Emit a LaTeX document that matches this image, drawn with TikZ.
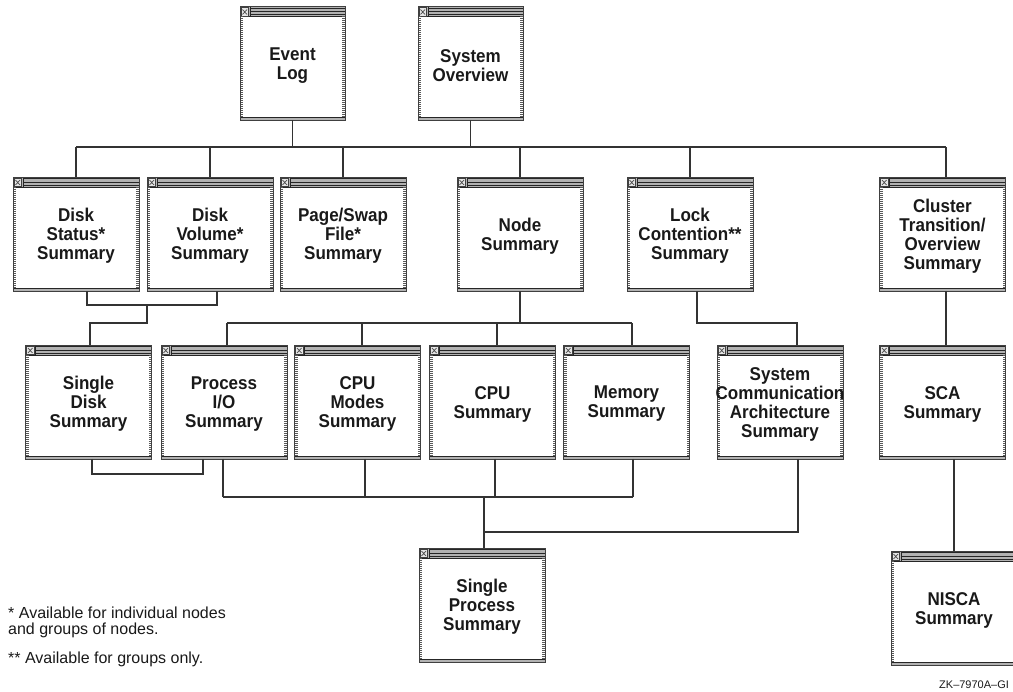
\documentclass[tikz,border=0pt]{standalone}
\usepackage{fontspec}
\setmainfont{Liberation Sans}
\newfontfamily\lblfont{Liberation Sans}[FakeStretch=0.92]
\usetikzlibrary{calc}
\begin{document}
\begin{tikzpicture}[x=1pt,y=-1pt,
  conn/.style={draw=black!80, line width=1.1pt},
  winbox/.style={draw=black!75, line width=0.9pt, fill=white,
    minimum width=#1, minimum height=114pt, inner sep=0pt, outer sep=0pt,
    path picture={
      \path (path picture bounding box.north west) coordinate (pNW)
            (path picture bounding box.south east) coordinate (pSE);
      % title bar with stripes
      \fill[black!30] (pNW) rectangle ($(pSE|-pNW)+(0,10)$);
      \foreach \d in {1.6,5,8.4}
        \draw[black!85, line width=0.9pt] ($(pNW)+(10,\d)$) -- ($(pSE|-pNW)+(0,\d)$);
      \draw[black!85, line width=0.9pt] ($(pNW)+(0,10)$) -- ($(pSE|-pNW)+(0,10)$);
      % close box
      \draw[black!75, fill=black!10, line width=0.6pt] ($(pNW)+(1,1)$) rectangle ($(pNW)+(8.5,9.5)$);
      \draw[black!70, line width=0.7pt] ($(pNW)+(2.5,3)$) -- ($(pNW)+(7,8)$)
                                        ($(pNW)+(2.5,8)$) -- ($(pNW)+(7,3)$);
      \draw[black!85, line width=1pt] ($(pNW)+(10,0)$) -- ($(pNW)+(10,10)$);
      % dotted side borders
      \draw[black!65, line width=3pt, dash pattern=on 1pt off 1pt]
        ($(pNW)+(1.5,10)$) -- ($(pNW|-pSE)+(1.5,0)$);
      \draw[black!65, line width=3pt, dash pattern=on 1pt off 1pt]
        ($(pSE|-pNW)+(-1.5,10)$) -- ($(pSE)+(-1.5,0)$);
      % bottom border
      \fill[black!30] ($(pNW|-pSE)+(0,-3)$) rectangle (pSE);
      \draw[black!85, line width=0.8pt] ($(pNW|-pSE)+(0,-3)$) -- ($(pSE)+(0,-3)$);
    }},
  winbox/.default=126pt,
  wintext/.style={font=\lblfont\bfseries\fontsize{18.5}{19}\selectfont,
    align=center, text=black!90, inner sep=0pt},
  note/.style={font=\fontsize{16}{16}\selectfont, align=left, text=black!90,
    inner sep=0pt, anchor=base west},
]
\newcommand\mkwin[5][126pt]{%
  \node[winbox=#1] (#2) at (#3,#4) {};
  \node[wintext] (#2-t) at ($(#2.center)+(0,2)$) {#5};}

\useasboundingbox (0,0) rectangle (1013,692);
\clip (0,0) rectangle (1013,692);

% windows
\mkwin[105pt]{evlog}{292.5}{63.5}{Event\\Log}
\mkwin[105pt]{sysov}{470.5}{63.5}{System\\Overview}
\mkwin{dstat}{76}{234}{Disk\\Status*\\Summary}
\mkwin{dvol}{210}{234}{Disk\\Volume*\\Summary}
\mkwin{pswap}{343}{234}{Page/Swap\\File*\\Summary}
\mkwin{nsum}{520}{234}{Node\\Summary}
\mkwin{lock}{690}{234}{Lock\\Contention**\\Summary}
\mkwin{clus}{942.5}{234}{Cluster\\Transition/\\Overview\\Summary}
\mkwin{sdisk}{88.5}{402}{Single\\Disk\\Summary}
\mkwin{proc}{224}{402}{Process\\I/O\\Summary}
\mkwin{cpum}{357.5}{402}{CPU\\Modes\\Summary}
\mkwin{cpu}{492.5}{402}{CPU\\Summary}
\mkwin{mem}{626.5}{402}{Memory\\Summary}
\mkwin{sca}{780}{402}{System\\Communication\\Architecture\\Summary}
\mkwin{scas}{942.5}{402}{SCA\\Summary}
\mkwin{sproc}{482}{605}{Single\\Process\\Summary}
\mkwin{nisca}{954}{608}{NISCA\\Summary}

% top bus
\coordinate (busA) at (0,147);
\draw[conn] (evlog.south) -- (evlog.south |- busA);
\draw[conn] (sysov.south) -- (sysov.south |- busA);
\draw[conn] (dstat.north |- busA) -- ($(clus.north |- busA)+(3.5,0)$);
\foreach \n/\s in {dstat/0,dvol/0,pswap/0,nsum/0,lock/0,clus/3.5}
  \draw[conn] ($(\n.north)+(\s,0)$) -- ($(\n.north |- busA)+(\s,0)$);

% disk windows to single disk
\draw[conn] ($(dstat.south)+(11,0)$) -- ++(0,14) -| ($(dvol.south)+(7,0)$);
\coordinate (dj) at (147,305);
\draw[conn] (dj) -- ++(0,18) -| ($(sdisk.north)+(1.5,0)$);

% node summary to its detail windows
\coordinate (busB) at (0,323);
\draw[conn] (nsum.south) -- (nsum.south |- busB);
\draw[conn] ($(proc.north |- busB)+(3,0)$) -- ($(mem.north |- busB)+(5.5,0)$);
\foreach \n/\s in {proc/3,cpum/4.5,cpu/4.5,mem/5.5}
  \draw[conn] ($(\n.north |- busB)+(\s,0)$) -- ($(\n.north)+(\s,0)$);

% lock contention to system communication architecture
\draw[conn] ($(lock.south)+(7,0)$) -- ++(0,32) -| ($(sca.north)+(17,0)$);

% cluster chain
\draw[conn] ($(clus.south)+(3.5,0)$) -- ($(scas.north)+(3.5,0)$);
\draw[conn] (nisca.north) -- (nisca.north |- scas.south);

% single disk / process I/O bracket
\draw[conn] ($(sdisk.south)+(3.5,0)$) -- ++(0,15) -| ($(proc.south)+(-21,0)$);

% detail windows to single process
\coordinate (busC) at (0,497);
\draw[conn] ($(proc.south |- busC)+(-1,0)$) -- ($(mem.south |- busC)+(6.5,0)$);
\foreach \n/\s in {proc/-1,cpum/7.5,cpu/2.5,mem/6.5}
  \draw[conn] ($(\n.south)+(\s,0)$) -- ($(\n.south |- busC)+(\s,0)$);
\draw[conn] ($(sproc.north |- busC)+(2,0)$) -- ($(sproc.north)+(2,0)$);
\draw[conn] ($(sca.south)+(18,0)$) |- ($(sproc.north)+(3,-16)$);

% footnotes
\node[note] (fn1) at (8,634) {* Available for individual nodes\\and groups of nodes.};
\node[note] (fn2) at (8,663) {** Available for groups only.};
\node[note, font=\fontsize{11}{12}\selectfont] (tag) at (939,688) {ZK–7970A–GI};
\end{tikzpicture}
\end{document}
